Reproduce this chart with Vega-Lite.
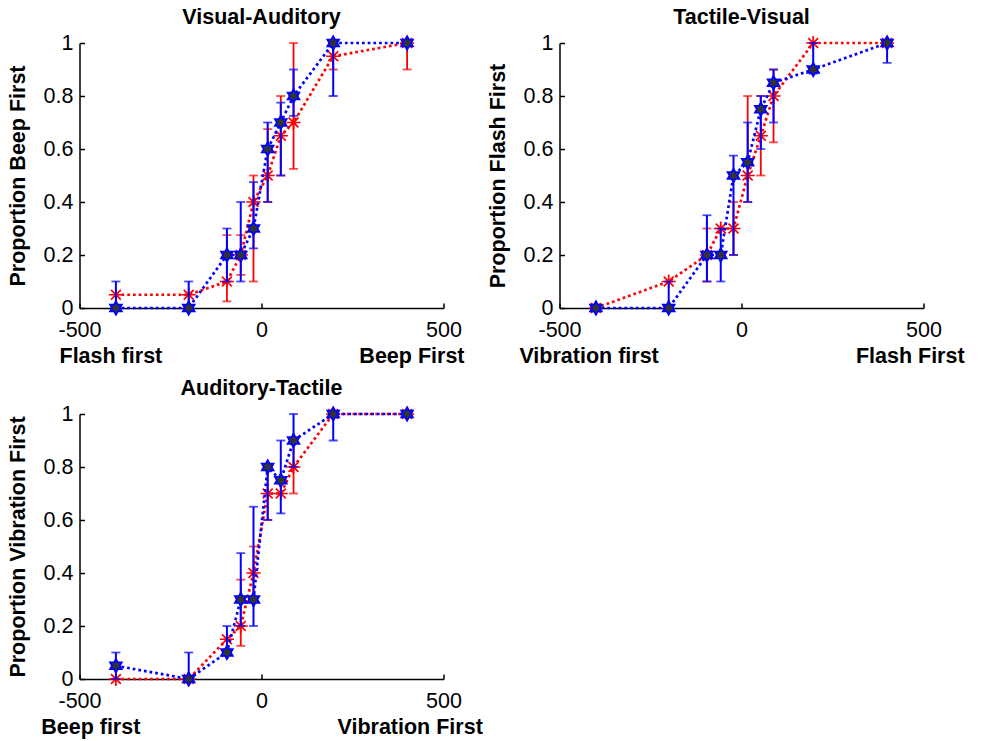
{
"$schema": "https://vega.github.io/schema/vega-lite/v6.json",
"background": "white",
"padding": {"left": 6.5, "top": 6, "right": 5, "bottom": 5},
"datasets": {"d": [
{"p":"VA","s":"B","x":-400,"y":0,"lo":0,"hi":0.1},
{"p":"VA","s":"B","x":-200,"y":0,"lo":0,"hi":0.1},
{"p":"VA","s":"B","x":-95,"y":0.2,"lo":0.1,"hi":0.3},
{"p":"VA","s":"B","x":-57,"y":0.2,"lo":0.1,"hi":0.4},
{"p":"VA","s":"B","x":-22,"y":0.3,"lo":0.225,"hi":0.475},
{"p":"VA","s":"B","x":17,"y":0.6,"lo":0.4,"hi":0.7},
{"p":"VA","s":"B","x":53,"y":0.7,"lo":0.5,"hi":0.775},
{"p":"VA","s":"B","x":88,"y":0.8,"lo":0.725,"hi":0.9},
{"p":"VA","s":"B","x":197,"y":1,"lo":0.8,"hi":1},
{"p":"VA","s":"B","x":400,"y":1,"lo":null,"hi":null},
{"p":"VA","s":"A","x":-400,"y":0.05,"lo":null,"hi":null},
{"p":"VA","s":"A","x":-200,"y":0.05,"lo":null,"hi":null},
{"p":"VA","s":"A","x":-95,"y":0.1,"lo":0.025,"hi":0.275},
{"p":"VA","s":"A","x":-57,"y":0.2,"lo":0.125,"hi":0.275},
{"p":"VA","s":"A","x":-22,"y":0.4,"lo":0.1,"hi":0.5},
{"p":"VA","s":"A","x":17,"y":0.5,"lo":0.4,"hi":0.675},
{"p":"VA","s":"A","x":53,"y":0.65,"lo":0.5,"hi":0.8},
{"p":"VA","s":"A","x":88,"y":0.7,"lo":0.525,"hi":1},
{"p":"VA","s":"A","x":197,"y":0.95,"lo":0.9,"hi":1},
{"p":"VA","s":"A","x":400,"y":1,"lo":0.9,"hi":1},
{"p":"TV","s":"B","x":-400,"y":0,"lo":null,"hi":null},
{"p":"TV","s":"B","x":-200,"y":0,"lo":0,"hi":0.1},
{"p":"TV","s":"B","x":-95,"y":0.2,"lo":0.1,"hi":0.35},
{"p":"TV","s":"B","x":-57,"y":0.2,"lo":0.1,"hi":0.3},
{"p":"TV","s":"B","x":-22,"y":0.5,"lo":0.2,"hi":0.575},
{"p":"TV","s":"B","x":17,"y":0.55,"lo":0.4,"hi":0.7},
{"p":"TV","s":"B","x":53,"y":0.75,"lo":0.6,"hi":0.8},
{"p":"TV","s":"B","x":88,"y":0.85,"lo":0.7,"hi":0.9},
{"p":"TV","s":"B","x":197,"y":0.9,"lo":0.885,"hi":1},
{"p":"TV","s":"B","x":400,"y":1,"lo":0.925,"hi":1},
{"p":"TV","s":"A","x":-400,"y":0,"lo":null,"hi":null},
{"p":"TV","s":"A","x":-200,"y":0.1,"lo":null,"hi":null},
{"p":"TV","s":"A","x":-95,"y":0.2,"lo":0.1,"hi":0.3},
{"p":"TV","s":"A","x":-57,"y":0.3,"lo":null,"hi":null},
{"p":"TV","s":"A","x":-22,"y":0.3,"lo":0.2,"hi":0.4},
{"p":"TV","s":"A","x":17,"y":0.5,"lo":0.4,"hi":0.8},
{"p":"TV","s":"A","x":53,"y":0.65,"lo":0.5,"hi":0.8},
{"p":"TV","s":"A","x":88,"y":0.8,"lo":0.625,"hi":0.9},
{"p":"TV","s":"A","x":197,"y":1,"lo":null,"hi":null},
{"p":"TV","s":"A","x":400,"y":1,"lo":null,"hi":null},
{"p":"AT","s":"B","x":-400,"y":0.05,"lo":0,"hi":0.1},
{"p":"AT","s":"B","x":-200,"y":0,"lo":0,"hi":0.1},
{"p":"AT","s":"B","x":-95,"y":0.1,"lo":0.1,"hi":0.2},
{"p":"AT","s":"B","x":-57,"y":0.3,"lo":0.2,"hi":0.475},
{"p":"AT","s":"B","x":-22,"y":0.3,"lo":0.2,"hi":0.65},
{"p":"AT","s":"B","x":17,"y":0.8,"lo":0.6,"hi":0.8},
{"p":"AT","s":"B","x":53,"y":0.75,"lo":0.625,"hi":0.9},
{"p":"AT","s":"B","x":88,"y":0.9,"lo":0.8,"hi":1},
{"p":"AT","s":"B","x":197,"y":1,"lo":0.9,"hi":1},
{"p":"AT","s":"B","x":400,"y":1,"lo":null,"hi":null},
{"p":"AT","s":"A","x":-400,"y":0,"lo":null,"hi":null},
{"p":"AT","s":"A","x":-200,"y":0,"lo":null,"hi":null},
{"p":"AT","s":"A","x":-95,"y":0.15,"lo":null,"hi":null},
{"p":"AT","s":"A","x":-57,"y":0.2,"lo":0.125,"hi":0.375},
{"p":"AT","s":"A","x":-22,"y":0.4,"lo":0.3,"hi":0.5},
{"p":"AT","s":"A","x":17,"y":0.7,"lo":0.6,"hi":0.8},
{"p":"AT","s":"A","x":53,"y":0.7,"lo":null,"hi":null},
{"p":"AT","s":"A","x":88,"y":0.8,"lo":0.7,"hi":0.9},
{"p":"AT","s":"A","x":197,"y":1,"lo":null,"hi":null},
{"p":"AT","s":"A","x":400,"y":1,"lo":null,"hi":null}
]},
"columns": 2,
"spacing": {"column": 116, "row": 106},
"bounds": "flush",
"concat": [
{
"width": 364, "height": 265,
"title": "Visual-Auditory",
"data": {"name": "d"},
"transform": [{"filter": "datum.p === 'VA'"}],
"encoding": {
"x": {"field": "x", "type": "quantitative", "scale": {"domain": [-500, 500], "nice": false}, "axis": {"values": [-500, 0, 500], "labelExpr": "datum.value < 0 ? '-' + (-datum.value) : '' + datum.value", "title": "Flash first\u00a0\u00a0\u00a0\u00a0\u00a0\u00a0\u00a0\u00a0\u00a0\u00a0\u00a0\u00a0\u00a0\u00a0\u00a0\u00a0\u00a0\u00a0\u00a0\u00a0\u00a0\u00a0\u00a0\u00a0\u00a0\u00a0\u00a0\u00a0\u00a0\u00a0\u00a0\u00a0\u00a0Beep First"}},
"y": {"field": "y", "type": "quantitative", "scale": {"domain": [0, 1], "nice": false}, "axis": {"values": [0, 0.2, 0.4, 0.6, 0.8, 1], "labelExpr": "'' + datum.value", "title": "Proportion Beep First"}}
},
"layer": [
{"transform": [{"filter": "datum.s === 'A'"}], "mark": {"type": "line", "color": "#ff0000", "strokeWidth": 2.7, "strokeDash": [2.7, 3]}},
{"transform": [{"filter": "datum.s === 'A' && isValid(datum.lo)"}], "mark": {"type": "errorbar", "color": "#ff0000", "rule": {"strokeWidth": 1.8}, "ticks": {"size": 9, "thickness": 1.8}}, "encoding": {"y": {"field": "lo", "type": "quantitative"}, "y2": {"field": "hi"}}},
{"transform": [{"filter": "datum.s === 'A'"}], "mark": {"type": "point", "shape": "M-1,0L1,0M0,-1L0,1M-0.7,-0.7L0.7,0.7M-0.7,0.7L0.7,-0.7", "filled": false, "color": "#ff0000", "strokeWidth": 1.7, "size": 200, "opacity": 1}},
{"transform": [{"filter": "datum.s === 'B'"}], "mark": {"type": "line", "color": "#0000ff", "strokeWidth": 2.7, "strokeDash": [2.7, 3]}},
{"transform": [{"filter": "datum.s === 'B' && isValid(datum.lo)"}], "mark": {"type": "errorbar", "color": "#0000ff", "rule": {"strokeWidth": 2}, "ticks": {"size": 9, "thickness": 1.8}}, "encoding": {"y": {"field": "lo", "type": "quantitative"}, "y2": {"field": "hi"}}},
{"transform": [{"filter": "datum.s === 'B'"}], "mark": {"type": "point", "shape": "M0,-1L0.2887,-0.5L0.866,-0.5L0.577,0L0.866,0.5L0.2887,0.5L0,1L-0.2887,0.5L-0.866,0.5L-0.577,0L-0.866,-0.5L-0.2887,-0.5Z", "filled": true, "fill": "#333333", "stroke": "#0000ff", "strokeWidth": 1.8, "size": 180, "opacity": 1}}
]
},
{
"width": 364, "height": 265,
"title": "Tactile-Visual",
"data": {"name": "d"},
"transform": [{"filter": "datum.p === 'TV'"}],
"encoding": {
"x": {"field": "x", "type": "quantitative", "scale": {"domain": [-500, 500], "nice": false}, "axis": {"values": [-500, 0, 500], "labelExpr": "datum.value < 0 ? '-' + (-datum.value) : '' + datum.value", "title": "Vibration first\u00a0\u00a0\u00a0\u00a0\u00a0\u00a0\u00a0\u00a0\u00a0\u00a0\u00a0\u00a0\u00a0\u00a0\u00a0\u00a0\u00a0\u00a0\u00a0\u00a0\u00a0\u00a0\u00a0\u00a0\u00a0\u00a0\u00a0\u00a0\u00a0\u00a0\u00a0\u00a0\u00a0Flash First"}},
"y": {"field": "y", "type": "quantitative", "scale": {"domain": [0, 1], "nice": false}, "axis": {"values": [0, 0.2, 0.4, 0.6, 0.8, 1], "labelExpr": "'' + datum.value", "title": "Proportion Flash First"}}
},
"layer": [
{"transform": [{"filter": "datum.s === 'A'"}], "mark": {"type": "line", "color": "#ff0000", "strokeWidth": 2.7, "strokeDash": [2.7, 3]}},
{"transform": [{"filter": "datum.s === 'A' && isValid(datum.lo)"}], "mark": {"type": "errorbar", "color": "#ff0000", "rule": {"strokeWidth": 1.8}, "ticks": {"size": 9, "thickness": 1.8}}, "encoding": {"y": {"field": "lo", "type": "quantitative"}, "y2": {"field": "hi"}}},
{"transform": [{"filter": "datum.s === 'A'"}], "mark": {"type": "point", "shape": "M-1,0L1,0M0,-1L0,1M-0.7,-0.7L0.7,0.7M-0.7,0.7L0.7,-0.7", "filled": false, "color": "#ff0000", "strokeWidth": 1.7, "size": 200, "opacity": 1}},
{"transform": [{"filter": "datum.s === 'B'"}], "mark": {"type": "line", "color": "#0000ff", "strokeWidth": 2.7, "strokeDash": [2.7, 3]}},
{"transform": [{"filter": "datum.s === 'B' && isValid(datum.lo)"}], "mark": {"type": "errorbar", "color": "#0000ff", "rule": {"strokeWidth": 2}, "ticks": {"size": 9, "thickness": 1.8}}, "encoding": {"y": {"field": "lo", "type": "quantitative"}, "y2": {"field": "hi"}}},
{"transform": [{"filter": "datum.s === 'B'"}], "mark": {"type": "point", "shape": "M0,-1L0.2887,-0.5L0.866,-0.5L0.577,0L0.866,0.5L0.2887,0.5L0,1L-0.2887,0.5L-0.866,0.5L-0.577,0L-0.866,-0.5L-0.2887,-0.5Z", "filled": true, "fill": "#333333", "stroke": "#0000ff", "strokeWidth": 1.8, "size": 180, "opacity": 1}}
]
},
{
"width": 364, "height": 265,
"title": "Auditory-Tactile",
"data": {"name": "d"},
"transform": [{"filter": "datum.p === 'AT'"}],
"encoding": {
"x": {"field": "x", "type": "quantitative", "scale": {"domain": [-500, 500], "nice": false}, "axis": {"values": [-500, 0, 500], "labelExpr": "datum.value < 0 ? '-' + (-datum.value) : '' + datum.value", "title": "Beep first\u00a0\u00a0\u00a0\u00a0\u00a0\u00a0\u00a0\u00a0\u00a0\u00a0\u00a0\u00a0\u00a0\u00a0\u00a0\u00a0\u00a0\u00a0\u00a0\u00a0\u00a0\u00a0\u00a0\u00a0\u00a0\u00a0\u00a0\u00a0\u00a0\u00a0\u00a0\u00a0\u00a0Vibration First"}},
"y": {"field": "y", "type": "quantitative", "scale": {"domain": [0, 1], "nice": false}, "axis": {"values": [0, 0.2, 0.4, 0.6, 0.8, 1], "labelExpr": "'' + datum.value", "title": "Proportion Vibration First"}}
},
"layer": [
{"transform": [{"filter": "datum.s === 'A'"}], "mark": {"type": "line", "color": "#ff0000", "strokeWidth": 2.7, "strokeDash": [2.7, 3]}},
{"transform": [{"filter": "datum.s === 'A' && isValid(datum.lo)"}], "mark": {"type": "errorbar", "color": "#ff0000", "rule": {"strokeWidth": 1.8}, "ticks": {"size": 9, "thickness": 1.8}}, "encoding": {"y": {"field": "lo", "type": "quantitative"}, "y2": {"field": "hi"}}},
{"transform": [{"filter": "datum.s === 'A'"}], "mark": {"type": "point", "shape": "M-1,0L1,0M0,-1L0,1M-0.7,-0.7L0.7,0.7M-0.7,0.7L0.7,-0.7", "filled": false, "color": "#ff0000", "strokeWidth": 1.7, "size": 200, "opacity": 1}},
{"transform": [{"filter": "datum.s === 'B'"}], "mark": {"type": "line", "color": "#0000ff", "strokeWidth": 2.7, "strokeDash": [2.7, 3]}},
{"transform": [{"filter": "datum.s === 'B' && isValid(datum.lo)"}], "mark": {"type": "errorbar", "color": "#0000ff", "rule": {"strokeWidth": 2}, "ticks": {"size": 9, "thickness": 1.8}}, "encoding": {"y": {"field": "lo", "type": "quantitative"}, "y2": {"field": "hi"}}},
{"transform": [{"filter": "datum.s === 'B'"}], "mark": {"type": "point", "shape": "M0,-1L0.2887,-0.5L0.866,-0.5L0.577,0L0.866,0.5L0.2887,0.5L0,1L-0.2887,0.5L-0.866,0.5L-0.577,0L-0.866,-0.5L-0.2887,-0.5Z", "filled": true, "fill": "#333333", "stroke": "#0000ff", "strokeWidth": 1.8, "size": 180, "opacity": 1}}
]
}
],
"config": {
"font": "Liberation Sans",
"view": {"stroke": null},
"axis": {"grid": false, "domainColor": "black", "domainWidth": 1.5, "tickColor": "black", "tickWidth": 1.5, "tickSize": -5, "labelColor": "black", "labelFont": "Liberation Sans", "labelFontSize": 21.5, "labelFlush": false, "labelOverlap": false, "titleFont": "Liberation Sans", "titleFontSize": 21.5, "titleFontWeight": "bold", "titleColor": "black"},
"axisX": {"labelPadding": 16.5, "titlePadding": 4.5},
"axisY": {"labelPadding": 11.5, "titlePadding": 14},
"title": {"font": "Liberation Sans", "fontSize": 21.5, "fontWeight": "bold", "color": "black", "offset": 4}
}
}
